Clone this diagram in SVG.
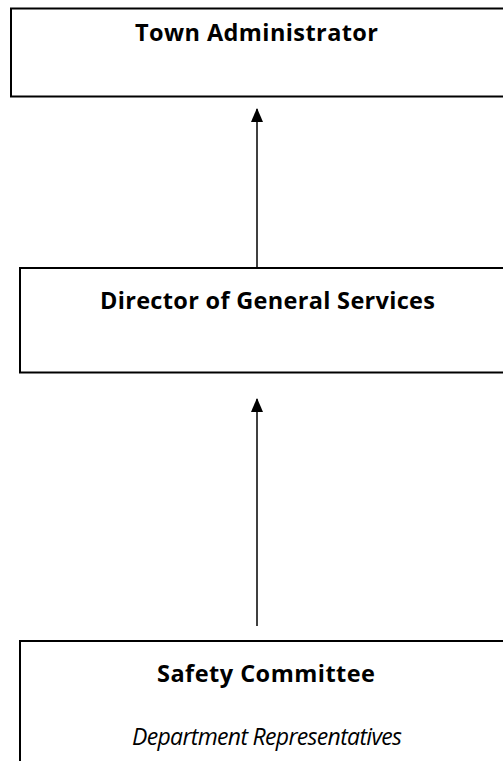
<svg xmlns="http://www.w3.org/2000/svg" width="503" height="761" viewBox="0 0 503 761">
<defs>
<style>
.box{fill:#fff;stroke:#000;stroke-width:2}
.t{font-family:"Open Sans","Liberation Sans",sans-serif;font-weight:bold;font-size:23.5px;fill:#000;text-anchor:middle}
.i{font-family:"Open Sans","Liberation Sans",sans-serif;font-style:italic;font-size:23px;fill:#000;text-anchor:middle}
.conn{stroke:#000;stroke-width:1.5;fill:none;marker-end:url(#ah)}
</style>
<marker id="ah" viewBox="0 0 14 12" refX="13" refY="6" markerWidth="14" markerHeight="12" markerUnits="userSpaceOnUse" orient="auto">
<path d="M0,0 L14,6 L0,12 z" fill="#000"/>
</marker>
</defs>
<rect width="503" height="761" fill="#fff"/>
<g id="connectors">
<line class="conn" x1="257" y1="268" x2="257" y2="109"/>
<line class="conn" x1="257" y1="626" x2="257" y2="399"/>
</g>
<g id="town-administrator">
<rect class="box" x="11" y="8.5" width="500" height="88"/>
<text class="t" x="256.5" y="40.5" textLength="243">Town Administrator</text>
</g>
<g id="director-general-services">
<rect class="box" x="20" y="268" width="500" height="104.5"/>
<text class="t" x="267.5" y="308.5" textLength="335">Director of General Services</text>
</g>
<g id="safety-committee">
<rect class="box" x="20" y="641" width="500" height="140"/>
<text class="t" x="266" y="681.5" textLength="218">Safety Committee</text>
<text class="i" x="267" y="744.5" textLength="270">Department Representatives</text>
</g>
</svg>
